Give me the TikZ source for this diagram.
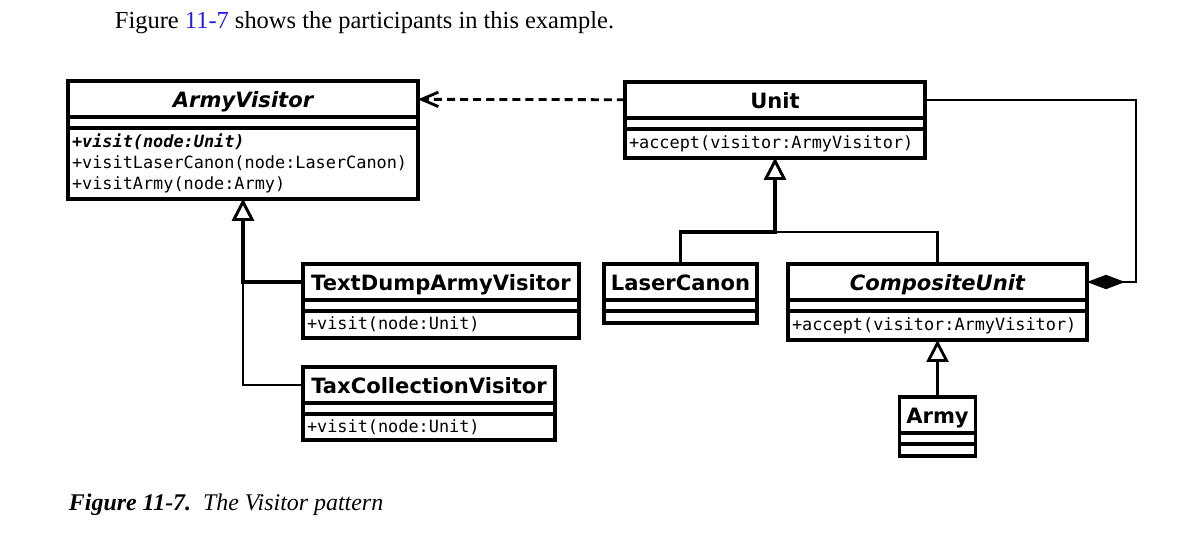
\documentclass[tikz,border=0pt]{standalone}
\usepackage{fontspec}
\setmainfont{Liberation Serif}
\newfontfamily\umlsans{DejaVu Sans}
\newfontfamily\umlmono{DejaVu Sans Mono}
\usepackage{tikz}
\usetikzlibrary{arrows.meta, positioning}
\definecolor{linkblue}{RGB}{30,30,230}

\tikzset{
  classname/.style={rectangle, draw=black, line width=2.6pt, outer sep=0pt, inner sep=0pt, minimum height=0.9cm, text height=15pt, text depth=3.6pt, font=\umlsans\bfseries\fontsize{15}{18}\selectfont},
  emptypart/.style={rectangle, draw=black, line width=2.6pt, outer sep=0pt, inner sep=0pt, minimum height=0.275cm},
  operations/.style={rectangle, draw=black, line width=2.6pt, outer sep=0pt, inner xsep=0.1cm, inner ysep=0pt, align=left, font=\umlmono\fontsize{12}{15}\selectfont},
  uses/.style={line width=2pt, dash pattern=on 5.7pt off 3.6pt, -{Straight Barb[length=0.42cm, width=0.36cm, line width=2pt]}},
  inherit/.style={line width=2.8pt, -{Triangle[length=0.55cm, width=0.55cm, fill=white, line width=2pt]}},
  inheritthin/.style={inherit, line width=2.1pt},
  owns/.style={line width=2.1pt, -{Diamond[length=0.95cm, width=0.36cm]}},
}

\begin{document}
\begin{tikzpicture}

\useasboundingbox (0,0) rectangle (30.1,-13.575);

\node (intro) [anchor=base west, font=\fontsize{17.4}{20}\selectfont] at (2.75,-0.725) {Figure \textcolor{linkblue}{11-7} shows the participants in this example.};

% visitors
\node (armyvisitor) [classname, anchor=north west, minimum width=8.75cm] at (1.7,-2.025) {\itshape ArmyVisitor};
\node (armyvisitorattr) [emptypart, minimum width=8.75cm, below=0pt of armyvisitor] {};
\node (armyvisitorops) [operations, text width=8.55cm, minimum height=1.775cm, below=0pt of armyvisitorattr] {{\bfseries\itshape +visit(node:Unit)}\\+visitLaserCanon(node:LaserCanon)\\+visitArmy(node:Army)};

\node (textdump) [classname, anchor=north west, minimum width=6.9cm] at (7.575,-6.6) {TextDumpArmyVisitor};
\node (textdumpattr) [emptypart, minimum width=6.9cm, below=0pt of textdump] {};
\node (textdumpops) [operations, text width=6.7cm, minimum height=0.675cm, below=0pt of textdumpattr] {+visit(node:Unit)};

\node (taxcollection) [classname, anchor=north west, minimum width=6.3cm] at (7.575,-9.175) {TaxCollectionVisitor};
\node (taxcollectionattr) [emptypart, minimum width=6.3cm, below=0pt of taxcollection] {};
\node (taxcollectionops) [operations, text width=6.1cm, minimum height=0.65cm, below=0pt of taxcollectionattr] {+visit(node:Unit)};

% units
\node (unit) [classname, anchor=north west, minimum width=7.5cm] at (15.625,-2.05) {Unit};
\node (unitattr) [emptypart, minimum width=7.5cm, below=0pt of unit] {};
\node (unitops) [operations, text width=7.3cm, minimum height=0.725cm, below=0pt of unitattr] {+accept(visitor:ArmyVisitor)};

\node (lasercanon) [classname, anchor=north west, minimum width=3.825cm] at (15.1,-6.6) {LaserCanon};
\node (lasercanonattr) [emptypart, minimum width=3.825cm, below=0pt of lasercanon] {};
\node (lasercanonops) [emptypart, minimum width=3.825cm, minimum height=0.3cm, below=0pt of lasercanonattr] {};

\node (compositeunit) [classname, anchor=north west, minimum width=7.475cm] at (19.7,-6.6) {\itshape CompositeUnit};
\node (compositeunitattr) [emptypart, minimum width=7.475cm, below=0pt of compositeunit] {};
\node (compositeunitops) [operations, text width=7.275cm, minimum height=0.725cm, below=0pt of compositeunitattr] {+accept(visitor:ArmyVisitor)};

\node (army) [classname, minimum width=1.9cm, below=1.425cm of compositeunitops] {Army};
\node (armyattr) [emptypart, minimum width=1.9cm, below=0pt of army] {};
\node (armyops) [emptypart, minimum width=1.9cm, minimum height=0.3cm, below=0pt of armyattr] {};

% relations
\draw [uses] (unit) -- (armyvisitor);
\draw [owns] (unit.east) -- ++(5.275,0) |- (compositeunit.east);
\draw [inheritthin] (taxcollection.west) -| (armyvisitorops.south);
\draw [inherit] (textdump.west) -| (armyvisitorops.south);
\draw [inheritthin] (compositeunit.north) -- ++(0,0.8) -| (unitops.south);
\draw [inherit] (lasercanon.north) -- ++(0,0.8) -| (unitops.south);
\draw [inherit] (army) -- (compositeunitops);

\node (caption) [anchor=base west, font=\fontsize{17}{20}\selectfont] at (1.6,-12.75) {\textbf{\textit{Figure 11-7.}}\enspace\textit{The Visitor pattern}};

\end{tikzpicture}
\end{document}
